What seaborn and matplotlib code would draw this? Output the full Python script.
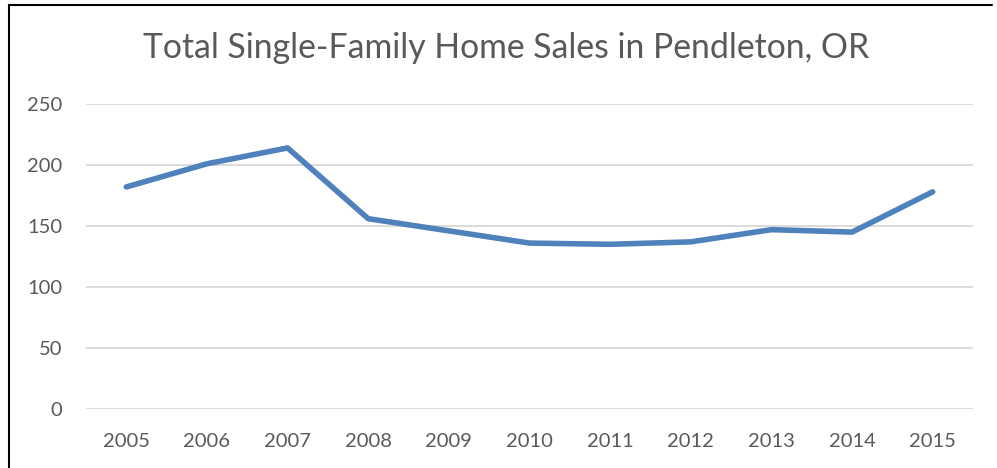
import matplotlib
matplotlib.use("Agg")
import matplotlib.pyplot as plt
import seaborn as sns
import pandas as pd
from matplotlib.lines import Line2D

years = [2005, 2006, 2007, 2008, 2009, 2010, 2011, 2012, 2013, 2014, 2015]
sales = [182, 201, 214, 156, 146, 136, 135, 137, 147, 145, 178]
yticks = [0, 50, 100, 150, 200, 250]
title = "Total Single-Family Home Sales in Pendleton, OR"

sns.set_style("white")
plt.rcParams['font.family'] = ['Lato', 'DejaVu Sans']
grey = "#595959"

data = pd.DataFrame({"year": years, "sales": sales})

fig = plt.figure(figsize=(9.97, 4.68), dpi=100)
ax = fig.add_axes([86/997, 1-409/468, (973-86)/997, (409-104)/468])

sns.lineplot(data=data, x="year", y="sales", ax=ax, color="#4F81BD",
             linewidth=4, solid_capstyle="round", solid_joinstyle="round")

ax.set_xlim(years[0]-0.5, years[-1]+0.5)
ax.set_ylim(0, 250)
ax.set_yticks(yticks)
ax.set_xticks(years)
ax.set_xticklabels([str(y) for y in years])
ax.grid(axis="y", color="#D9D9D9", linewidth=1.3)
ax.set_axisbelow(True)
for s in ax.spines.values():
    s.set_visible(False)
ax.tick_params(axis="both", length=0, labelsize=14.5, colors=grey)
ax.tick_params(axis="y", pad=17)
ax.tick_params(axis="x", pad=17)
ax.set_xlabel("")
ax.set_ylabel("")

fig.text(506/997, 1-48/468, title, ha="center", va="center",
         fontsize=24.3, color=grey)

# chart frame (top and left edges visible in the crop)
fig.add_artist(Line2D([9/997, 9/997], [0, 1-5/468], color="black", linewidth=1.5,
                      transform=fig.transFigure))
fig.add_artist(Line2D([9/997, 992/997], [1-5/468, 1-5/468], color="black", linewidth=1.5,
                      transform=fig.transFigure))

fig.savefig("out.png", dpi=100)
